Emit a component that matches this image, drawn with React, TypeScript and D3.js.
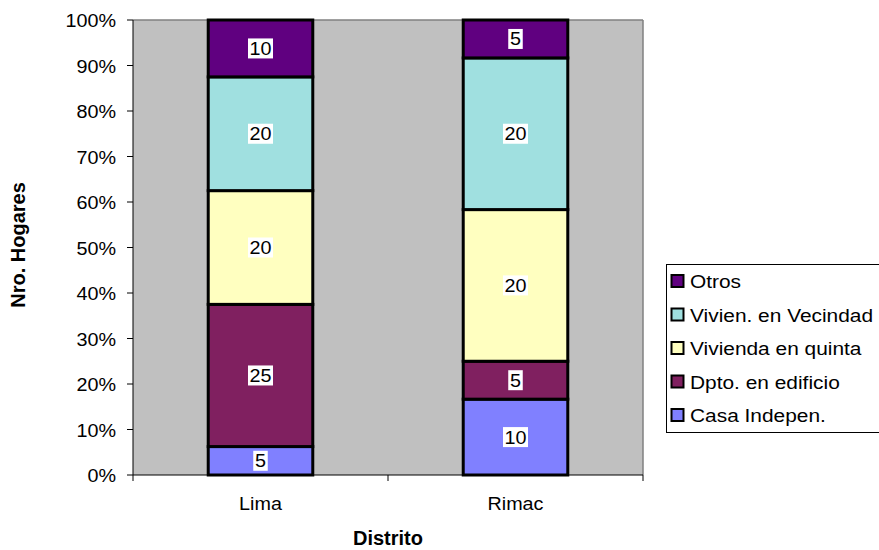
import React from "react";
import * as d3 from "d3";

const categories = ["Lima", "Rimac"];
const seriesNames = ["Casa Indepen.", "Dpto. en edificio", "Vivienda en quinta", "Vivien. en Vecindad", "Otros"];
const seriesColors = ["#8080FF", "#802060", "#FFFFC0", "#A0E0E0", "#600080"];
const casaIndepen = [5, 10];
const dptoEdificio = [25, 5];
const viviendaQuinta = [20, 20];
const vivienVecindad = [20, 20];
const otros = [10, 5];
const yTicks = [0, 0.1, 0.2, 0.3, 0.4, 0.5, 0.6, 0.7, 0.8, 0.9, 1];

const seriesValues = [casaIndepen, dptoEdificio, viviendaQuinta, vivienVecindad, otros];

const SX = 1.13;

function T({ x, y, anchor = "start", size = 17.5, children }: any) {
  return (
    <text transform={`translate(${x},${y}) scale(${SX},1)`} textAnchor={anchor} fontSize={size} fill="#000">
      {children}
    </text>
  );
}

export default function App() {
  const W = 879, H = 550;
  const left = 133, right = 643, top = 20, bottom = 475;
  const x = d3.scaleBand<string>().domain(categories).range([left, right]).paddingInner(0.59).paddingOuter(0.295);
  const y = d3.scaleLinear().domain([0, 1]).range([bottom, top]);
  const rows = categories.map((c, i) => {
    const r: any = { cat: c };
    seriesNames.forEach((s, j) => (r[s] = seriesValues[j][i]));
    return r;
  });
  const stack = d3.stack<any>().keys(seriesNames).offset(d3.stackOffsetExpand);
  const layers = stack(rows);
  const font = "Arial, 'Liberation Sans', sans-serif";
  const legendItems = [...seriesNames.map((s, i) => ({ s, c: seriesColors[i] }))].reverse();

  return (
    <svg width={W} height={H} style={{ position: "absolute", left: 0, top: 0, background: "#fff" }} fontFamily={font}>
      <rect x={left} y={top} width={right - left} height={bottom - top} fill="#C0C0C0" />
      <line x1={left} x2={right} y1={top} y2={top} stroke="#808080" strokeWidth={1.5} />
      <line x1={right} x2={right} y1={top} y2={bottom} stroke="#808080" strokeWidth={1.5} />
      {layers.map((layer, j) =>
        layer.map((d, i) => {
          const x0 = x(categories[i])!;
          return (
            <rect key={`${j}-${i}`} x={x0} y={y(d[1])} width={x.bandwidth()} height={y(d[0]) - y(d[1])}
              fill={seriesColors[j]} stroke="#000" strokeWidth={3} />
          );
        })
      )}
      {layers.map((layer, j) =>
        layer.map((d, i) => {
          const cx = x(categories[i])! + x.bandwidth() / 2;
          const cy = (y(d[0]) + y(d[1])) / 2;
          const v = String(seriesValues[j][i]);
          const w = v.length * 10.5 + 4;
          return (
            <g key={`l${j}-${i}`}>
              <rect x={cx - w / 2} y={cy - 10} width={w} height={20} fill="#fff" />
              <T x={cx} y={cy + 6.5} anchor="middle">{v}</T>
            </g>
          );
        })
      )}
      <line x1={left} x2={left} y1={top} y2={bottom} stroke="#000" strokeWidth={1} />
      <line x1={left} x2={right} y1={bottom} y2={bottom} stroke="#000" strokeWidth={1} />
      {yTicks.map((t) => (
        <g key={t}>
          <line x1={left - 6} x2={left} y1={y(t)} y2={y(t)} stroke="#000" />
          <T x={116} y={y(t) + 7} anchor="end">{d3.format(".0%")(t)}</T>
        </g>
      ))}
      {[left, (left + right) / 2, right].map((tx) => (
        <line key={tx} x1={tx} x2={tx} y1={bottom} y2={bottom + 6} stroke="#000" />
      ))}
      {categories.map((c) => (
        <T key={c} x={x(c)! + x.bandwidth() / 2} y={510} anchor="middle">{c}</T>
      ))}
      <text x={388} y={545} textAnchor="middle" fontSize={20} fontWeight="bold">Distrito</text>
      <text transform={`translate(25,245) rotate(-90)`} textAnchor="middle" fontSize={20} fontWeight="bold">Nro. Hogares</text>
      <rect x={666.5} y={264.5} width={215} height={168} fill="#fff" stroke="#000" strokeWidth={1} />
      {legendItems.map((it, i) => {
        const b = 288 + i * 33.5;
        return (
          <g key={it.s}>
            <rect x={671.5} y={b - 13} width={12} height={12} fill={it.c} stroke="#000" strokeWidth={2} />
            <T x={690} y={b} size={18.5}>{it.s}</T>
          </g>
        );
      })}
    </svg>
  );
}
